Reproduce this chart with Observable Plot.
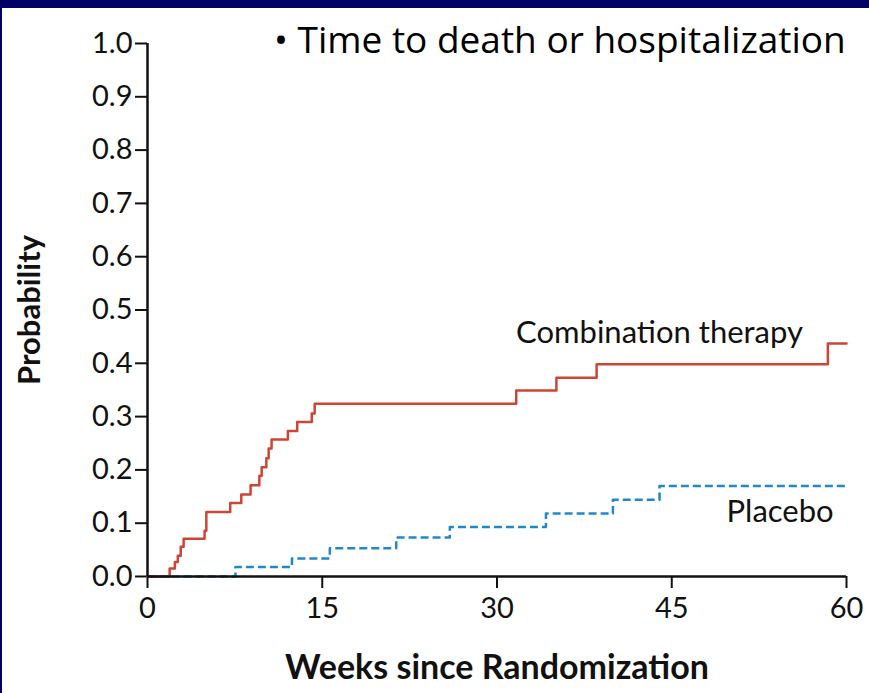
<!DOCTYPE html>
<html>
<head>
<meta charset="utf-8">
<script src="https://cdn.jsdelivr.net/npm/d3@7"></script>
<script src="https://cdn.jsdelivr.net/npm/@observablehq/plot@0.6"></script>
<style>
  html, body { margin: 0; padding: 0; background: #fff; overflow: hidden; }
  #frame {
    position: relative; width: 867px; height: 685px;
    border-top: 8px solid #000066; border-left: 2px solid #000066;
    background: #fff; overflow: hidden;
  }
  #title {
    position: absolute; left: 272px; top: 5px;
    font-family: "Open Sans", sans-serif; font-size: 37px; color: #000;
    white-space: nowrap; z-index: 2;
  }
  #chart { position: absolute; left: 0; top: 0; }
</style>
</head>
<body>
<div id="frame">
  <div id="title">• Time to death or hospitalization</div>
  <div id="chart"></div>
</div>
<script>
// Combination therapy: event times (weeks) and cumulative probability
const comboWeeks = [0, 1.9, 2.35, 2.6, 2.85, 3.1, 4.9, 5.05, 7.1, 8.05, 8.85, 9.6, 9.8, 10.2, 10.4, 10.65, 12.05, 12.85, 14.1, 14.35, 31.65, 35.1, 38.55, 58.4, 60];
const comboProb  = [0, 0.015, 0.027, 0.039, 0.056, 0.071, 0.086, 0.121, 0.138, 0.154, 0.171, 0.189, 0.205, 0.222, 0.24, 0.257, 0.273, 0.29, 0.306, 0.324, 0.349, 0.373, 0.398, 0.437, 0.437];
// Placebo
const placeboWeeks = [0, 7.55, 12.4, 15.65, 21.35, 25.95, 34.2, 39.95, 43.95, 60];
const placeboProb  = [0, 0.018, 0.034, 0.053, 0.073, 0.093, 0.118, 0.144, 0.17, 0.17];
// Axis ticks and labels
const xTicks = [0, 15, 30, 45, 60];
const yTicks = [0, 0.1, 0.2, 0.3, 0.4, 0.5, 0.6, 0.7, 0.8, 0.9, 1.0];
const seriesNames = ["Combination therapy", "Placebo"];
const xLabel = "Weeks since Randomization";
const yLabel = "Probability";

const combo = comboWeeks.map((w, i) => ({week: w, prob: comboProb[i]}));
const placebo = placeboWeeks.map((w, i) => ({week: w, prob: placeboProb[i]}));

const font = "Lato, 'Open Sans', sans-serif";

const plot = Plot.plot({
  width: 867,
  height: 685,
  marginLeft: 145,
  marginRight: 23,
  marginTop: 35,
  marginBottom: 117,
  style: { fontFamily: font, background: "transparent", color: "#111" },
  x: { domain: [0, 60], ticks: xTicks },
  y: { domain: [0, 1], ticks: yTicks },
  marks: [
    Plot.axisY({ ticks: yTicks, tickSize: 12, tickPadding: 3, strokeWidth: 2, fontSize: 29, tickFormat: d3.format(".1f"), label: null }),
    Plot.axisX({ ticks: xTicks, tickSize: 12, tickPadding: 9, strokeWidth: 2, fontSize: 29, label: null }),
    Plot.line(placebo, { x: "week", y: "prob", curve: "step-after", stroke: "#1f88cc", strokeWidth: 2.5, strokeDasharray: "8,4", strokeLinecap: "butt" }),
    Plot.line(combo, { x: "week", y: "prob", curve: "step-after", stroke: "#cc4535", strokeWidth: 2.5 }),
    Plot.ruleX([0], { y1: 0, y2: 1, stroke: "#111", strokeWidth: 2.5 }),
    Plot.ruleY([0], { x1: 0, x2: 60, stroke: "#111", strokeWidth: 2.5 }),
    Plot.text([seriesNames[0]], { x: 43.95, y: 0.456, text: d => d, fontSize: 31, fill: "#111", textAnchor: "middle", lineAnchor: "middle" }),
    Plot.text([seriesNames[1]], { x: 54.3, y: 0.12, text: d => d, fontSize: 31, fill: "#111", textAnchor: "middle", lineAnchor: "middle" }),
    Plot.text([xLabel], { frameAnchor: "bottom", dy: 92, text: d => d, fontSize: 34, fontWeight: "bold", fill: "#111", textAnchor: "middle", lineAnchor: "middle" }),
    Plot.text([yLabel], { frameAnchor: "left", dx: -117, rotate: -90, text: d => d, fontSize: 31, fontWeight: "bold", fill: "#111", textAnchor: "middle", lineAnchor: "middle" })
  ]
});
document.getElementById("chart").appendChild(plot);
</script>
</body>
</html>
